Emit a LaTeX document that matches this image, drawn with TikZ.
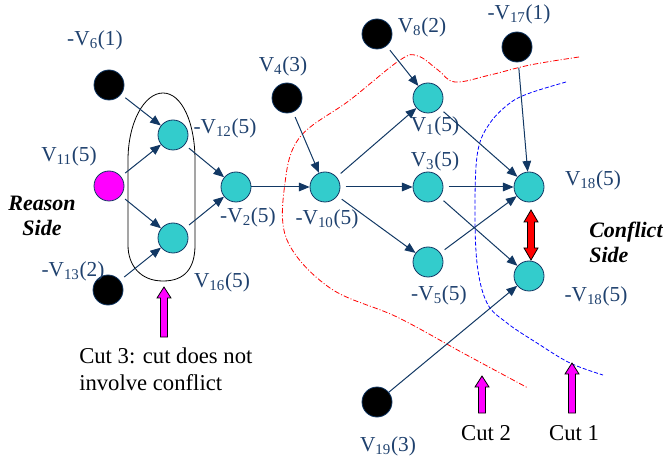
\documentclass[tikz,border=0pt]{standalone}
\usepackage{fontspec}
\setmainfont{Liberation Serif}
\usetikzlibrary{arrows.meta}

\definecolor{linkblue}{RGB}{18,56,100}
\definecolor{labelblue}{RGB}{31,65,110}
\definecolor{tealfill}{RGB}{51,204,204}
\definecolor{cutmagenta}{RGB}{255,0,255}

\newcommand{\vs}[1]{\textsubscript{#1}}
% upward block arrow: x, tip y, tail y
\newcommand{\cutarrow}[3]{%
  \draw[blockarrow] (#1,#2) -- ({#1+7},{#2+11}) -- ({#1+3.5},{#2+11}) -- ({#1+3.5},#3)
    -- ({#1-3.5},#3) -- ({#1-3.5},{#2+11}) -- ({#1-7},{#2+11}) -- cycle;}

\tikzset{
  vertex/.style={circle, draw=linkblue, line width=0.6pt, minimum size=22.5pt, inner sep=0pt},
  implied/.style={vertex, fill=tealfill},
  decided/.style={vertex, fill=black},
  flipped/.style={vertex, fill=cutmagenta},
  vlabel/.style={text=labelblue, font=\fontsize{16}{19}\selectfont, inner sep=0pt},
  cuttext/.style={font=\fontsize{17}{20}\selectfont, inner sep=0pt},
  sidetext/.style={font=\fontsize{16.5}{18.75}\selectfont\bfseries\itshape, inner sep=0pt},
  link/.style={draw=linkblue, line width=0.75pt, -{Triangle[length=8pt,width=6.5pt]}, shorten <=4pt},
  blockarrow/.style={draw=black, line width=0.6pt, fill=cutmagenta},
}

\begin{document}
\begin{tikzpicture}[x=0.75pt, y=-0.75pt]
  \useasboundingbox (0,0) rectangle (663,459);

  % cut lines
  \draw[red, line width=0.6pt, dash pattern=on 4pt off 1.5pt on 0.75pt off 1.5pt]
    plot[smooth, tension=0.6] coordinates {(579,57) (530,65) (490,75) (455,82) (438,70)
      (418,56) (400,60) (350,100) (300,137) (285,183) (287,240) (330,288) (397,317)
      (463,353) (528,388)};
  \draw[blue, line width=0.6pt, dash pattern=on 3pt off 1.5pt]
    plot[smooth, tension=0.6] coordinates {(566,82) (530,93) (510,103) (490,123)
      (478,150) (475,200) (477,263) (487,303) (507,323) (537,343) (570,363) (603,375)};
  % loop of cut 3
  \draw[black, line width=0.6pt] (128,200) -- (128,160) .. controls (128,123) and (144,93) .. (163,93)
    .. controls (182,93) and (195,123) .. (195,160) -- (195,245)
    .. controls (195,268) and (185,281) .. (163,281)
    .. controls (141,281) and (128,266) .. (128,245) -- cycle;

  % vertices
  \node[decided] (v6) at (109,85) {};
  \node[flipped] (v11) at (109,186) {};
  \node[decided] (v13) at (108,290) {};
  \node[implied] (v12) at (173,135) {};
  \node[implied] (v16) at (173,238) {};
  \node[implied] (v2) at (236,187) {};
  \node[decided] (v4) at (287,98) {};
  \node[implied] (v10) at (325,187) {};
  \node[decided] (v8) at (377,34) {};
  \node[implied] (v1) at (428,98) {};
  \node[implied] (v3) at (428,187) {};
  \node[implied] (v5) at (428,262) {};
  \node[decided] (v17) at (517,47) {};
  \node[implied] (v18) at (529,187) {};
  \node[implied] (nv18) at (529,276) {};
  \node[decided] (v19) at (377,402) {};

  % labels
  \node[vlabel] (l6) at (95,40) {-V\vs{6}(1)};
  \node[vlabel] (l11) at (69,156) {V\vs{11}(5)};
  \node[vlabel] (l13) at (73,271) {-V\vs{13}(2)};
  \node[vlabel] (l12) at (225,128) {-V\vs{12}(5)};
  \node[vlabel] (l16) at (222,282) {V\vs{16}(5)};
  \node[vlabel] (l2) at (248,217) {-V\vs{2}(5)};
  \node[vlabel] (l4) at (283,66) {V\vs{4}(3)};
  \node[vlabel] (l10) at (327,219) {-V\vs{10}(5)};
  \node[vlabel] (l8) at (422,27) {V\vs{8}(2)};
  \node[vlabel] (l1) at (435,126) {V\vs{1}(5)};
  \node[vlabel] (l3) at (435,161) {V\vs{3}(5)};
  \node[vlabel] (l5) at (439,295) {-V\vs{5}(5)};
  \node[vlabel] (l17) at (519,14) {-V\vs{17}(1)};
  \node[vlabel] (l18) at (593,180) {V\vs{18}(5)};
  \node[vlabel] (ln18) at (596,296) {-V\vs{18}(5)};
  \node[vlabel] (l19) at (388,446) {V\vs{19}(3)};

  % implications
  \draw[link] (v6) -- (v12);
  \draw[link] (v11) -- (v12);
  \draw[link] (v11) -- (v16);
  \draw[link] (v13) -- (v16);
  \draw[link] (v12) -- (v2);
  \draw[link] (v16) -- (v2);
  \draw[link, shorten <=0pt] (v2) -- (v10);
  \draw[link] (v4) -- (v10);
  \draw[link] (v10) -- (v1);
  \draw[link] (v10) -- (v3);
  \draw[link] (v10) -- (v5);
  \draw[link] (v8) -- (v1);
  \draw[link] (v1) -- (v18);
  \draw[link] (v3) -- (v18);
  \draw[link] (v5) -- (v18);
  \draw[link] (v17) -- (v18);
  \draw[link] (v3) -- (nv18);
  \draw[link, shorten <=0pt] (v19) -- (nv18);

  % conflict
  \draw[draw=black, line width=0.6pt, fill=red] (531,210) -- (538,222) -- (534.5,222) -- (534.5,248)
    -- (538,248) -- (531,260) -- (524,248) -- (527.5,248) -- (527.5,222) -- (524,222) -- cycle;

  % cut arrows
  \cutarrow{164}{287}{337}
  \cutarrow{482}{376}{413}
  \cutarrow{572}{363}{413}

  % texts
  \node[cuttext, anchor=west, align=left] (cut3) at (79,369) {Cut 3: cut does not\\involve conflict};
  \node[cuttext] (cut2) at (486,433) {Cut 2};
  \node[cuttext] (cut1) at (574,433) {Cut 1};
  \node[sidetext, align=center] (reason) at (42,216) {Reason\\Side};
  \node[sidetext, anchor=west, align=left] (conflict) at (589,242) {Conflict\\Side};
\end{tikzpicture}
\end{document}
